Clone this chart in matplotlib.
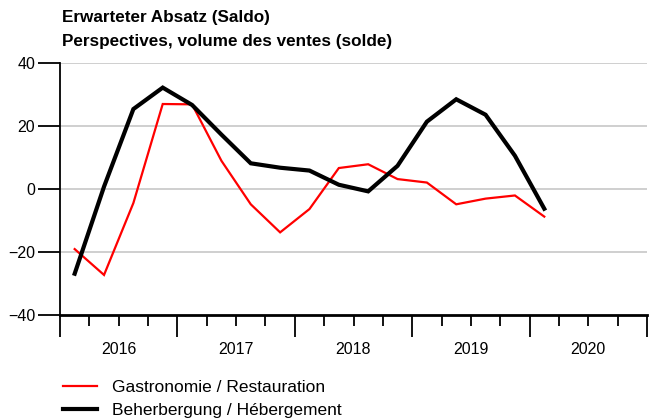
import matplotlib
matplotlib.use("Agg")
import matplotlib.pyplot as plt
import numpy as np

plt.rcParams['font.family'] = ['Liberation Sans', 'DejaVu Sans']

quarters = ["2016Q1","2016Q2","2016Q3","2016Q4","2017Q1","2017Q2","2017Q3","2017Q4",
            "2018Q1","2018Q2","2018Q3","2018Q4","2019Q1","2019Q2","2019Q3","2019Q4","2020Q1"]
gastro = [-19.1, -27.3, -4.5, 26.9, 26.8, 8.9, -4.9, -13.8, -6.4, 6.6, 7.8, 3.1, 2.0, -4.9, -3.1, -2.1, -8.8]
beher = [-26.9, 0.7, 25.3, 32.1, 26.6, 17.2, 8.1, 6.7, 5.8, 1.3, -0.8, 7.3, 21.3, 28.4, 23.5, 10.5, -6.3]
years = ["2016", "2017", "2018", "2019", "2020"]
yticks = [-40, -20, 0, 20, 40]
title = "Erwarteter Absatz (Saldo)\nPerspectives, volume des ventes (solde)"
labels = ["Gastronomie / Restauration", "Beherbergung / Hébergement"]

W, H = 667, 419
fig = plt.figure(figsize=(W/100, H/100), dpi=100)
ax = fig.add_axes([60/W, 1-315/H, (647-60)/W, (315-62.7)/H])

x = np.arange(len(quarters)) + 0.5
l1, = ax.plot(x, gastro, color='#ff0000', lw=1.6, solid_joinstyle='miter')
l2, = ax.plot(x, beher, color='black', lw=3.0, solid_joinstyle='miter')

ax.set_xlim(0, 4*len(years))
ax.set_ylim(-40, 40)
ax.set_yticks(yticks)
ax.set_yticklabels([("\u2212" + str(abs(v))) if v < 0 else str(v) for v in yticks], fontsize=11.5)
for v in yticks[1:]:
    ax.axhline(v, color='#cccccc', lw=1.3, zorder=0)

ax.spines['top'].set_visible(False)
ax.spines['right'].set_visible(False)
ax.spines['left'].set_linewidth(1.3)
ax.spines['bottom'].set_linewidth(2.0)
ax.tick_params(axis='y', length=16, width=1.3, pad=2)

ax.set_xticks(np.arange(0, 4*len(years)+1, 4))
ax.set_xticklabels([])
ax.set_xticks(np.arange(0, 4*len(years)+1, 1), minor=True)
ax.tick_params(axis='x', which='major', length=16, width=1.3)
ax.tick_params(axis='x', which='minor', length=8, width=1.3)
for i, yr in enumerate(years):
    ax.text(4*i+2, -0.137, yr, transform=ax.get_xaxis_transform(), ha='center', va='center', fontsize=11.5)

fig.text(62/W, 1-29.5/H, title, fontsize=12.3, fontweight='bold', ha='left', va='center', linespacing=1.7)

fig.legend([l1, l2], labels, loc='upper left', bbox_to_anchor=(63/W, 1-380/H), frameon=False,
           fontsize=12.5, handlelength=1.95, handletextpad=0.86, labelspacing=0.44, borderpad=0,
           borderaxespad=0)

fig.savefig("out.png", dpi=100)
